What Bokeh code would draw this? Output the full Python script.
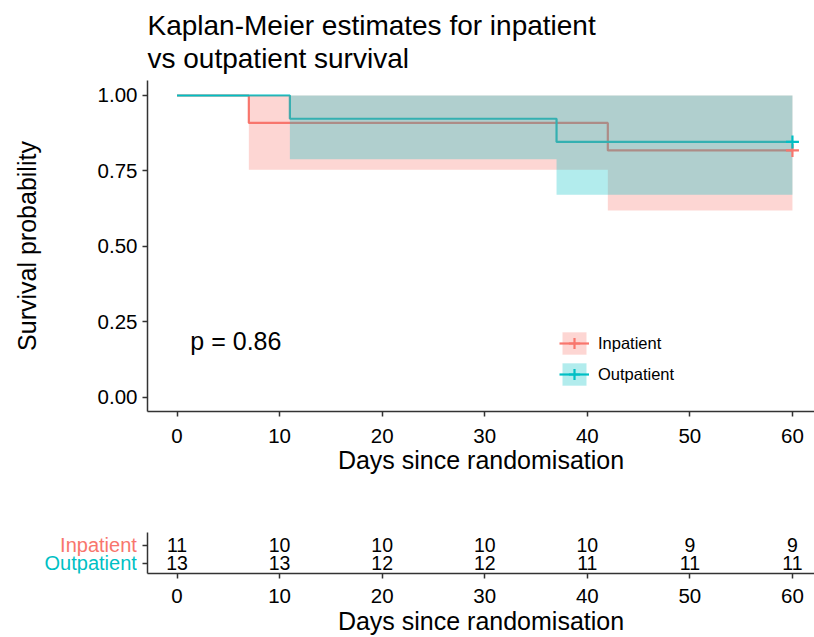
from bokeh.plotting import figure
from bokeh.layouts import column, row
from bokeh.models import Range1d, FixedTicker, Legend, LegendItem, Title
from bokeh.core.properties import value
from bokeh.embed import file_html
from bokeh.resources import INLINE

# ---------------- data ----------------
groups = ["Inpatient", "Outpatient"]
colors = ["#F8766D", "#00BFC4"]

time_in = [0, 7, 42, 60]
surv_in = [1.0, 0.909, 0.818, 0.818]
lower_in = [1.0, 0.754, 0.619, 0.619]
upper_in = [1.0, 1.0, 1.0, 1.0]

time_out = [0, 11, 37, 60]
surv_out = [1.0, 0.923, 0.846, 0.846]
lower_out = [1.0, 0.789, 0.671, 0.671]
upper_out = [1.0, 1.0, 1.0, 1.0]

censor_time = [60, 60]
censor_surv = [0.818, 0.846]

pval_text = "p = 0.86"

risk_times = [0, 10, 20, 30, 40, 50, 60]
risk_in = [11, 10, 10, 10, 10, 9, 9]
risk_out = [13, 13, 12, 12, 11, 11, 11]

x_ticks = [0, 10, 20, 30, 40, 50, 60]
y_ticks = [0.0, 0.25, 0.5, 0.75, 1.0]
y_tick_labels = {0.0: "0.00", 0.25: "0.25", 0.5: "0.50", 0.75: "0.75", 1.0: "1.00"}

FONT = "Liberation Sans"
AXIS_COL = "#333333"

# ---------------- main KM plot ----------------
p = figure(width=814, height=480, output_backend="svg", toolbar_location=None,
           x_range=Range1d(-2.88, 62.15), y_range=Range1d(-0.0474, 1.0497),
           min_border_left=147, min_border_right=0, min_border_top=80,
           min_border_bottom=69)
p.title = None
p.add_layout(Title(text="Kaplan-Meier estimates for inpatient\nvs outpatient survival",
                   text_font=FONT, text_font_size="28px", text_font_style="normal",
                   text_color="black", align="left", standoff=12,
                   text_line_height=1.09), "above")
p.outline_line_color = None
p.xgrid.grid_line_color = None
p.ygrid.grid_line_color = None
p.background_fill_color = "white"
p.border_fill_color = "white"


def style_axes(fig, label_size):
    for ax in (fig.xaxis[0], fig.yaxis[0]):
        ax.axis_line_color = AXIS_COL
        ax.axis_line_width = 1.5
        ax.major_tick_line_color = AXIS_COL
        ax.major_tick_line_width = 1.5
        ax.major_tick_in = 0
        ax.major_tick_out = 5
        ax.minor_tick_line_color = None
        ax.major_label_text_font = FONT
        ax.major_label_text_font_size = "20.5px"
        ax.major_label_text_color = "black"
        ax.axis_label_text_font = FONT
        ax.axis_label_text_font_size = label_size
        ax.axis_label_text_font_style = "normal"
        ax.axis_label_text_color = "black"


style_axes(p, "25px")
p.xaxis.ticker = FixedTicker(ticks=x_ticks)
p.yaxis.ticker = FixedTicker(ticks=y_ticks)
p.yaxis.major_label_overrides = y_tick_labels
p.xaxis.axis_label = "Days since randomisation"
p.yaxis.axis_label = "Survival probability"
p.xaxis.major_label_standoff = 12
p.xaxis.axis_label_standoff = 0
p.yaxis.major_label_standoff = 5
p.yaxis.axis_label_standoff = 54

lw = 2.2
line_in = p.step(time_in, surv_in, mode="after", line_color=colors[0], line_width=lw)
line_out = p.step(time_out, surv_out, mode="after", line_color=colors[1], line_width=lw)
band_in = p.varea_step(x=time_in, y1=lower_in, y2=upper_in, step_mode="after",
                       fill_color=colors[0], fill_alpha=0.3)
band_out = p.varea_step(x=time_out, y1=lower_out, y2=upper_out, step_mode="after",
                        fill_color=colors[1], fill_alpha=0.3)
cross_in = p.scatter([censor_time[0]], [censor_surv[0]], marker="cross", size=13,
                     line_color=colors[0], line_width=2.2)
cross_out = p.scatter([censor_time[1]], [censor_surv[1]], marker="cross", size=13,
                      line_color=colors[1], line_width=2.2)

p.text(x=[1.3], y=[0.186], text=[pval_text], text_font=value(FONT),
       text_font_size="25px", text_align="left", text_baseline="middle",
       text_color="black")

legend = Legend(items=[
    LegendItem(label=groups[0], renderers=[band_in, line_in, cross_in]),
    LegendItem(label=groups[1], renderers=[band_out, line_out, cross_out]),
], location=(412, 23), orientation="vertical")
legend.margin = 0
legend.padding = 0
legend.spacing = 3
legend.glyph_width = 30
legend.glyph_height = 28
legend.label_standoff = 9
legend.label_text_font = FONT
legend.label_text_font_size = "16.5px"
legend.label_text_color = "black"
legend.border_line_color = None
legend.background_fill_alpha = 0
p.add_layout(legend, "center")

# ---------------- risk table ----------------
risk_y_range = Range1d(-0.585, 1.71)

# group names (coloured) in a narrow panel left of the table
lab = figure(width=137, height=157, output_backend="svg", toolbar_location=None,
             x_range=Range1d(0, 1), y_range=risk_y_range,
             x_axis_type=None, y_axis_type=None,
             min_border_left=0, min_border_right=0, min_border_top=52,
             min_border_bottom=63)
lab.outline_line_color = None
lab.xgrid.grid_line_color = None
lab.ygrid.grid_line_color = None
lab.text(x=[0.995, 0.995], y=[1, 0], text=groups, text_color=colors,
         text_font=value(FONT), text_font_size="20px", text_align="right",
         text_baseline="middle")

q = figure(width=677, height=157, output_backend="svg", toolbar_location=None,
           x_range=Range1d(-2.88, 62.15), y_range=risk_y_range,
           min_border_left=10, min_border_right=0, min_border_top=52,
           min_border_bottom=63)
q.outline_line_color = None
q.xgrid.grid_line_color = None
q.ygrid.grid_line_color = None
style_axes(q, "25px")
q.xaxis.ticker = FixedTicker(ticks=x_ticks)
q.yaxis.ticker = FixedTicker(ticks=[0, 1])
q.yaxis.major_label_overrides = {0: "", 1: ""}
q.yaxis.major_label_standoff = 0
q.xaxis.axis_label = "Days since randomisation"
q.xaxis.major_label_standoff = 10
q.xaxis.axis_label_standoff = 1

q.text(x=risk_times, y=[1] * len(risk_times), text=[str(v) for v in risk_in],
       text_font=value(FONT), text_font_size="19.5px", text_align="center",
       text_baseline="middle", text_color="black")
q.text(x=risk_times, y=[0] * len(risk_times), text=[str(v) for v in risk_out],
       text_font=value(FONT), text_font_size="19.5px", text_align="center",
       text_baseline="middle", text_color="black")

layout = column(p, row(lab, q, spacing=0), spacing=0)
open("out.html", "w").write(file_html(layout, INLINE))
